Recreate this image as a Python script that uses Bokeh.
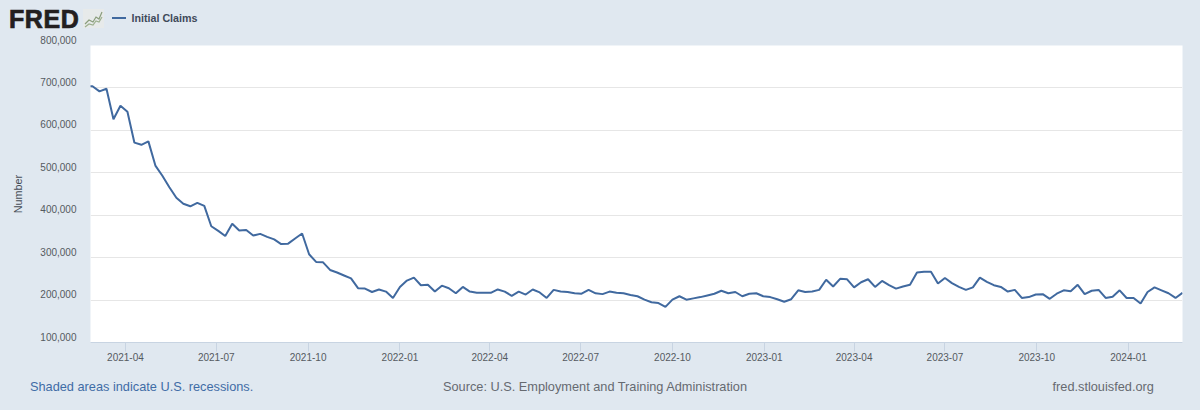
import pandas as pd
from bokeh.embed import file_html
from bokeh.layouts import column
from bokeh.models import ColumnDataSource, DatetimeTickFormatter, Div, FixedTicker
from bokeh.plotting import figure
from bokeh.resources import INLINE

BG = "#e0e8f0"
LINE = "#40699f"
FONT = "Liberation Sans"
GREY = "#555a60"

# weekly initial claims, thousands (ends 2024-02-24)
claims_2021 = [
    704, 704, 692, 698, 626, 658, 644, 571, 566, 574, 517, 493, 466, 441, 427, 421,
    429, 422, 374, 363, 351, 380, 364, 365, 352, 356, 349, 343, 332, 333, 345, 357,
    308, 290, 289, 271, 265, 258, 251, 228, 227, 219, 225, 220, 205, 231,
]
claims_2022 = [
    246, 253, 235, 236, 220, 234, 228, 216, 231, 220, 217, 217, 217, 225, 220, 210,
    220, 213, 225, 218, 205, 224, 220, 219, 216, 215, 224, 216, 214, 220, 217, 216,
    212, 209, 201, 195, 193, 184, 201, 209, 201, 204, 207, 211, 215, 222, 216, 219,
    209, 215, 216, 209,
]
claims_2023 = [
    207, 202, 196, 202, 223, 219, 220, 224, 248, 232, 250, 249, 230, 242, 249, 231,
    245, 235, 227, 232, 236, 265, 267, 267, 239, 252, 240, 231, 224, 230, 253, 243,
    235, 231, 220, 224, 205, 207, 213, 214, 203, 215, 223, 221, 236, 214, 222, 224,
    205, 208, 223, 205,
]
claims_2024 = [205, 192, 219, 230, 223, 216, 205, 217]
claims = [v * 1000 for v in claims_2021 + claims_2022 + claims_2023 + claims_2024]
dates = pd.date_range(end="2024-02-24", periods=len(claims), freq="7D")

x_tick_dates = ["2021-04-01", "2021-07-01", "2021-10-01", "2022-01-01", "2022-04-01", "2022-07-01",
                "2022-10-01", "2023-01-01", "2023-04-01", "2023-07-01", "2023-10-01", "2024-01-01"]
y_ticks = [100000, 200000, 300000, 400000, 500000, 600000, 700000, 800000]

src = ColumnDataSource(data=dict(date=dates, claims=claims))

p = figure(width=1200, height=344, output_backend="svg", toolbar_location=None,
           x_axis_type="datetime", y_axis_label="Number",
           x_range=(pd.Timestamp("2021-02-25"), pd.Timestamp("2024-02-24")),
           y_range=(100000, 800000),
           min_border_left=90, min_border_right=18, min_border_top=17, min_border_bottom=30,
           background_fill_color="white", border_fill_color=None, outline_line_color=None)

p.line("date", "claims", source=src, line_color=LINE, line_width=2)

p.xaxis.ticker = FixedTicker(ticks=[pd.Timestamp(d).value / 1e6 for d in x_tick_dates])
p.xaxis.formatter = DatetimeTickFormatter(days="%Y-%m", months="%Y-%m", years="%Y-%m", context=None)
p.xaxis.axis_line_color = "#c8d4e2"
p.xaxis.major_tick_line_color = "#c8d4e2"
p.xaxis.major_tick_in = 0
p.xaxis.major_tick_out = 9
p.xaxis.minor_tick_line_color = None
p.xaxis.major_label_standoff = 1
p.xaxis.major_label_text_font = FONT
p.xaxis.major_label_text_font_size = "10px"
p.xaxis.major_label_text_color = GREY

p.yaxis.ticker = FixedTicker(ticks=y_ticks)
# trailing newline lifts each label above its grid line, like the original
p.yaxis.major_label_overrides = {v: f"{v:,}\n" for v in y_ticks}
p.yaxis.major_label_text_line_height = 1.0
p.yaxis.axis_line_color = None
p.yaxis.major_tick_line_color = None
p.yaxis.minor_tick_line_color = None
p.yaxis.major_tick_in = 0
p.yaxis.major_tick_out = 0
p.yaxis.major_label_standoff = 14
p.yaxis.major_label_text_font = FONT
p.yaxis.major_label_text_font_size = "10px"
p.yaxis.major_label_text_color = GREY
p.yaxis.axis_label_standoff = 13
p.yaxis.axis_label_text_font = FONT
p.yaxis.axis_label_text_font_size = "10.8px"
p.yaxis.axis_label_text_font_style = "normal"
p.yaxis.axis_label_text_color = "#454b55"

p.xgrid.grid_line_color = None
p.ygrid.grid_line_color = "#e6e6e6"
p.ygrid.grid_line_width = 1


def span(text, left, top, size, color, extra=""):
    return (f'<span style="position:absolute;left:{left}px;top:{top}px;font:{size} \'{FONT}\';'
            f'line-height:{size};color:{color};white-space:nowrap;{extra}">{text}</span>')


icon = ('<svg style="position:absolute;left:83px;top:9px" width="21" height="19">'
        '<rect width="21" height="19" fill="#e7eaea"/>'
        '<polyline points="2,15 6,11 10,13 13,8 16,10 19,3" fill="none" stroke="#8a9d7c" stroke-width="1.2"/>'
        '<polyline points="2,18 6,15 10,16 13,12 16,13 19,8" fill="none" stroke="#9db08f" stroke-width="1.2"/></svg>')

header = Div(width=1200, height=28, margin=0, text=(
    '<div style="position:relative;width:1200px;height:28px">'
    + span("FRED", 9, 6.5, "25px", "#231f20",
           "font-weight:bold;letter-spacing:0.6px;-webkit-text-stroke:0.7px #231f20")
    + icon
    + f'<span style="position:absolute;left:112px;top:17px;width:14px;height:2px;background:{LINE}"></span>'
    + span("Initial Claims", 131.5, 12.5, "10.7px", "#3f4a5a", "font-weight:bold")
    + '</div>'))

footer = Div(width=1200, height=38, margin=0, text=(
    '<div style="position:relative;width:1200px;height:38px">'
    + span("Shaded areas indicate U.S. recessions.", 30, 9, "12.75px", "#3f6ca6")
    + span("Source: U.S. Employment and Training Administration", 443, 9, "12.75px", "#666a70")
    + span("fred.stlouisfed.org", 1052.5, 9, "12.75px", "#666a70")
    + '</div>'))

page = column(header, p, footer, spacing=0)

html = file_html(page, INLINE).replace("<head>", "<head><style>html,body{background:%s}</style>" % BG, 1)
open("out.html", "w").write(html)
